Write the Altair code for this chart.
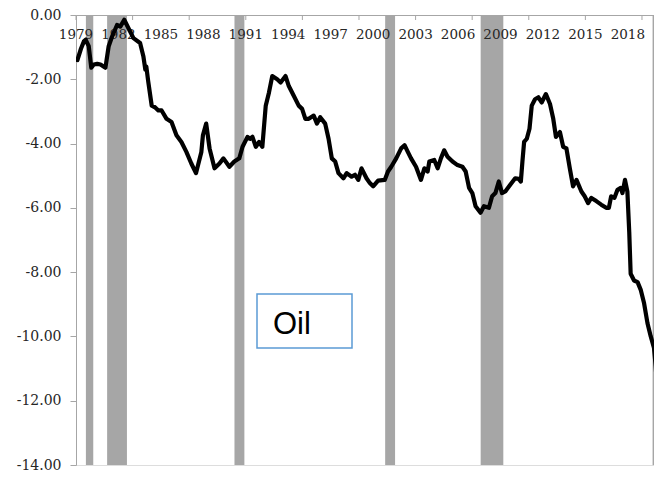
import altair as alt
import pandas as pd

# ---- data ----
years = [1979.10, 1979.35, 1979.56, 1979.68, 1979.90, 1980.08, 1980.26, 1980.50, 1980.73, 1981.08,
         1981.31, 1981.55, 1981.90, 1982.13, 1982.41, 1982.71, 1983.06, 1983.53, 1983.76, 1983.90,
         1983.97, 1984.10, 1984.35, 1984.58, 1984.82, 1985.05, 1985.40, 1985.75, 1986.10, 1986.45,
         1986.80, 1987.15, 1987.48, 1987.86, 1987.97, 1988.20, 1988.44, 1988.79, 1989.14, 1989.42,
         1989.84, 1990.19, 1990.54, 1990.77, 1991.12, 1991.30, 1991.47, 1991.71, 1991.94, 1992.17,
         1992.41, 1992.64, 1992.87, 1993.22, 1993.46, 1993.81, 1994.04, 1994.39, 1994.74, 1994.98,
         1995.21, 1995.45, 1995.80, 1996.03, 1996.26, 1996.61, 1996.85, 1997.08, 1997.32, 1997.55,
         1997.90, 1998.13, 1998.48, 1998.72, 1998.95, 1999.18, 1999.53, 1999.77, 2000.00, 2000.35,
         2000.82, 2001.05, 2001.28, 2001.63, 2001.98, 2002.22, 2002.45, 2002.68, 2003.03, 2003.38,
         2003.62, 2003.85, 2003.97, 2004.32, 2004.56, 2004.79, 2005.02, 2005.26, 2005.61, 2005.96,
         2006.31, 2006.54, 2006.78, 2007.01, 2007.24, 2007.59, 2007.83, 2008.18, 2008.41, 2008.64,
         2008.88, 2009.11, 2009.34, 2009.69, 2010.04, 2010.28, 2010.44, 2010.55, 2010.67, 2010.86,
         2011.05, 2011.21, 2011.44, 2011.68, 2011.91, 2012.21, 2012.50, 2012.73, 2012.92, 2013.20,
         2013.43, 2013.66, 2013.90, 2014.13, 2014.37, 2014.72, 2014.95, 2015.19, 2015.42, 2015.77,
         2016.12, 2016.47, 2016.66, 2016.82, 2017.05, 2017.27, 2017.50, 2017.62, 2017.80, 2017.97,
         2018.10, 2018.20, 2018.44, 2018.69, 2018.92, 2019.15, 2019.39, 2019.62, 2019.85, 2019.97,
         2020.10]
oil = [-1.40, -1.05, -0.82, -0.77, -0.97, -1.64, -1.54, -1.52, -1.54, -1.64,
       -0.97, -0.67, -0.31, -0.36, -0.15, -0.41, -0.72, -0.87, -1.28, -1.70,
       -1.60, -2.05, -2.82, -2.87, -2.97, -2.97, -3.23, -3.33, -3.74, -3.95,
       -4.26, -4.62, -4.92, -4.26, -3.74, -3.38, -4.15, -4.77, -4.62, -4.46,
       -4.72, -4.56, -4.46, -4.10, -3.79, -3.85, -3.79, -4.10, -3.95, -4.10,
       -2.82, -2.41, -1.90, -2.00, -2.10, -1.90, -2.21, -2.51, -2.82, -2.92,
       -3.23, -3.23, -3.13, -3.38, -3.18, -3.38, -3.85, -4.46, -4.56, -4.92,
       -5.08, -4.92, -5.03, -4.97, -5.13, -4.77, -5.08, -5.23, -5.33, -5.15,
       -5.13, -4.87, -4.72, -4.46, -4.15, -4.05, -4.26, -4.46, -4.72, -5.13,
       -4.77, -4.87, -4.56, -4.51, -4.77, -4.46, -4.21, -4.41, -4.56, -4.67,
       -4.72, -4.87, -5.38, -5.54, -5.95, -6.15, -5.95, -6.00, -5.64, -5.54,
       -5.18, -5.54, -5.49, -5.28, -5.08, -5.10, -5.18, -4.56, -3.95, -3.85,
       -3.54, -2.82, -2.62, -2.56, -2.72, -2.46, -2.77, -3.23, -3.79, -3.64,
       -4.10, -4.15, -4.77, -5.33, -5.13, -5.49, -5.64, -5.85, -5.69, -5.79,
       -5.90, -6.00, -6.00, -5.64, -5.69, -5.44, -5.38, -5.54, -5.13, -5.50,
       -6.75, -8.05, -8.26, -8.31, -8.56, -8.97, -9.59, -10.00, -10.36, -10.92,
       -11.85]

rec_start = [1979.70, 1981.20, 1990.20, 2000.85, 2007.60, 2019.75]
rec_end = [1980.22, 1982.60, 1990.90, 2001.55, 2009.20, 2020.30]

label_years = list(range(1979, 2019, 3))
tick_years = list(range(1979, 2020, 4))
y_ticks = [0, -2, -4, -6, -8, -10, -12, -14]
annotation = ["Oil"]

# ---- layout ----
W, H = 578, 450
X_DOMAIN = [1979.0, 2019.85]
AXIS_GRAY = "#A6A6A6"
LABEL_COLOR = "#262626"

line_df = pd.DataFrame({"year": years, "oil": oil})
rec_df = pd.DataFrame({"start": rec_start, "end": rec_end})
tick_df = pd.DataFrame({"year": tick_years})
lab_df = pd.DataFrame({"year": label_years, "text": [str(y) for y in label_years]})
ann_df = pd.DataFrame({"label": annotation})

xscale = alt.Scale(domain=X_DOMAIN, nice=False, zero=False)
yscale = alt.Scale(domain=[-14, 0], nice=False)

recessions = alt.Chart(rec_df).mark_rect(color="#A6A6A6", clip=True).encode(
    x=alt.X("start:Q", scale=xscale,
            axis=alt.Axis(orient="bottom", offset=-H, labels=False, ticks=False, tickSize=0,
                          grid=False, domainColor=AXIS_GRAY, title=None)),
    x2="end:Q",
    y=alt.value(0),
    y2=alt.value(H),
)

xticks = alt.Chart(tick_df).mark_rule(color=AXIS_GRAY, strokeWidth=1).encode(
    x=alt.X("year:Q", scale=xscale),
    y=alt.value(0),
    y2=alt.value(5),
)

xlabels = alt.Chart(lab_df).mark_text(font="DejaVu Serif", fontSize=13.5, color=LABEL_COLOR,
                                      align="center", baseline="middle").encode(
    x=alt.X("year:Q", scale=xscale),
    y=alt.value(19.5),
    text="text:N",
)

line = alt.Chart(line_df).mark_line(color="black", strokeWidth=4.2, strokeJoin="round",
                                    strokeCap="round", clip=True).encode(
    x=alt.X("year:Q", scale=xscale),
    y=alt.Y("oil:Q", scale=yscale,
            axis=alt.Axis(values=y_ticks, grid=False, domainColor=AXIS_GRAY, tickColor=AXIS_GRAY,
                          tickSize=6, labelPadding=9, labelFont="DejaVu Serif", labelFontSize=14,
                          labelColor=LABEL_COLOR, labelOverlap=False, labelFlush=False,
                          labelExpr="(datum.value < 0 ? '-' : '') + format(abs(datum.value), '.2f')",
                          title=None)),
)

box = alt.Chart(ann_df).mark_rect(fill="white", stroke="#5B9BD5", strokeWidth=1.5).encode(
    x=alt.value(181), x2=alt.value(276), y=alt.value(279), y2=alt.value(333),
)

box_text = alt.Chart(ann_df).mark_text(font="Liberation Sans", fontSize=31, align="left",
                                       baseline="alphabetic", color="black").encode(
    x=alt.value(197), y=alt.value(319), text="label:N",
)

chart = alt.layer(recessions, xticks, xlabels, line, box, box_text).properties(
    width=W, height=H,
    autosize=alt.AutoSizeParams(type="none"),
    padding={"left": 68, "top": 7, "right": 0, "bottom": 7},
).configure_view(stroke=None).configure(background="white")

chart.save("out.html", embed_options={"renderer": "svg", "actions": False})
